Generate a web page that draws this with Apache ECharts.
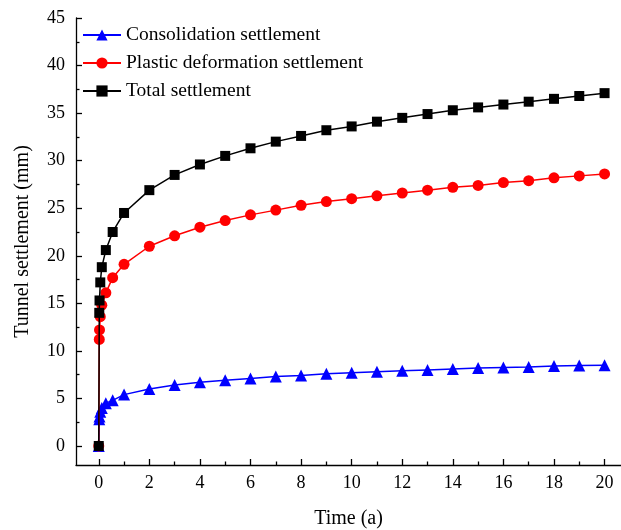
<!DOCTYPE html>
<html>
<head>
<meta charset="utf-8">
<script src="https://cdn.jsdelivr.net/npm/echarts@6/dist/echarts.min.js"></script>
<style>
  html, body { margin: 0; padding: 0; background: #fff; }
  #chart { width: 621px; height: 530px; }
</style>
</head>
<body>
<div id="chart"></div>
<script>
// Time (years) at which settlement was evaluated
const timeYears = [0, 0.02, 0.03, 0.06, 0.12, 0.28, 0.55, 1, 2, 3, 4, 5, 6, 7, 8, 9, 10,
                   11, 12, 13, 14, 15, 16, 17, 18, 19, 20];

// Settlement components (mm)
const consolidation = [0, 2.8, 3.1, 3.6, 4.0, 4.5, 4.8, 5.4, 6.0, 6.4, 6.7, 6.9, 7.1, 7.3, 7.4, 7.6, 7.7,
                       7.8, 7.9, 8.0, 8.1, 8.2, 8.25, 8.3, 8.4, 8.45, 8.5];
const plastic = [0, 11.2, 12.2, 13.6, 14.8, 16.1, 17.7, 19.1, 21.0, 22.1, 23.0, 23.7, 24.3, 24.8, 25.3, 25.7, 26.0,
                 26.3, 26.6, 26.9, 27.2, 27.4, 27.7, 27.9, 28.2, 28.4, 28.6];
const total = [0, 14.0, 15.3, 17.2, 18.8, 20.6, 22.5, 24.5, 26.9, 28.5, 29.6, 30.5, 31.3, 32.0, 32.6, 33.2, 33.6,
               34.1, 34.5, 34.9, 35.3, 35.6, 35.9, 36.2, 36.5, 36.8, 37.1];

const seriesNames = ['Consolidation settlement', 'Plastic deformation settlement', 'Total settlement'];

// Axis tick positions
const xMajorTicks = [0, 2, 4, 6, 8, 10, 12, 14, 16, 18, 20];
const xMinorTicks = [1, 3, 5, 7, 9, 11, 13, 15, 17, 19];
const yMajorTicks = [0, 5, 10, 15, 20, 25, 30, 35, 40, 45];
const yMinorTicks = [2.5, 7.5, 12.5, 17.5, 22.5, 27.5, 32.5, 37.5, 42.5];

const FONT = '"Liberation Serif", "Times New Roman", serif';

const pairs = vals => timeYears.map((t, i) => [t, vals[i]]);

const X_MIN = -0.9, X_MAX = 20.65, Y_MIN = -2, Y_MAX = 45;

const chart = echarts.init(document.getElementById('chart'), null, { renderer: 'canvas' });

const lineStyleAxis = { color: '#000', width: 1.3 };

chart.setOption({
  backgroundColor: '#fff',
  animation: false,
  grid: { left: 76, right: 0, top: 18, bottom: 65, containLabel: false, outerBoundsMode: 'none' },
  legend: {
    orient: 'vertical',
    left: 82,
    top: 25,
    padding: [0, 0, 0, 0],
    itemWidth: 38,
    itemHeight: 14,
    itemGap: 8,
    textStyle: { fontFamily: FONT, fontSize: 19.5, color: '#000' },
    data: seriesNames
  },
  xAxis: [
    {
      type: 'value', min: X_MIN, max: X_MAX, position: 'bottom',
      name: 'Time (a)', nameLocation: 'middle', nameGap: 44,
      nameTextStyle: { fontFamily: FONT, fontSize: 20, color: '#000' },
      axisLine: { show: true, onZero: false, lineStyle: lineStyleAxis },
      axisTick: { show: true, inside: true, length: 6, customValues: xMajorTicks, lineStyle: lineStyleAxis },
      axisLabel: { show: true, customValues: xMajorTicks, margin: 9, fontFamily: FONT, fontSize: 18, color: '#000' },
      splitLine: { show: false }
    },
    {
      type: 'value', min: X_MIN, max: X_MAX, position: 'bottom',
      axisLine: { show: false, onZero: false },
      axisTick: { show: true, inside: true, length: 3.5, customValues: xMinorTicks, lineStyle: lineStyleAxis },
      axisLabel: { show: false },
      splitLine: { show: false }
    }
  ],
  yAxis: [
    {
      type: 'value', min: Y_MIN, max: Y_MAX, position: 'left',
      name: 'Tunnel settlement (mm)', nameLocation: 'middle', nameGap: 43, nameRotate: 90,
      nameTextStyle: { fontFamily: FONT, fontSize: 20, color: '#000' },
      axisLine: { show: true, onZero: false, lineStyle: lineStyleAxis },
      axisTick: { show: true, inside: true, length: 6, customValues: yMajorTicks, lineStyle: lineStyleAxis },
      axisLabel: { show: true, customValues: yMajorTicks, margin: 11, fontFamily: FONT, fontSize: 18, color: '#000' },
      splitLine: { show: false }
    },
    {
      type: 'value', min: Y_MIN, max: Y_MAX, position: 'left',
      axisLine: { show: false, onZero: false },
      axisTick: { show: true, inside: true, length: 3.5, customValues: yMinorTicks, lineStyle: lineStyleAxis },
      axisLabel: { show: false },
      splitLine: { show: false }
    }
  ],
  series: [
    {
      name: seriesNames[0], type: 'line', xAxisIndex: 0, yAxisIndex: 0,
      data: pairs(consolidation),
      symbol: 'triangle', symbolSize: 12,
      itemStyle: { color: '#0000ff' },
      lineStyle: { color: '#0000ff', width: 1.5 },
      z: 2
    },
    {
      name: seriesNames[1], type: 'line', xAxisIndex: 0, yAxisIndex: 0,
      data: pairs(plastic),
      symbol: 'circle', symbolSize: 11,
      itemStyle: { color: '#ff0000' },
      lineStyle: { color: '#ff0000', width: 1.5 },
      z: 3
    },
    {
      name: seriesNames[2], type: 'line', xAxisIndex: 0, yAxisIndex: 0,
      data: pairs(total),
      symbol: 'rect', symbolSize: 10,
      itemStyle: { color: '#000000' },
      lineStyle: { color: '#000000', width: 1.5 },
      z: 4
    }
  ]
});
</script>
</body>
</html>
